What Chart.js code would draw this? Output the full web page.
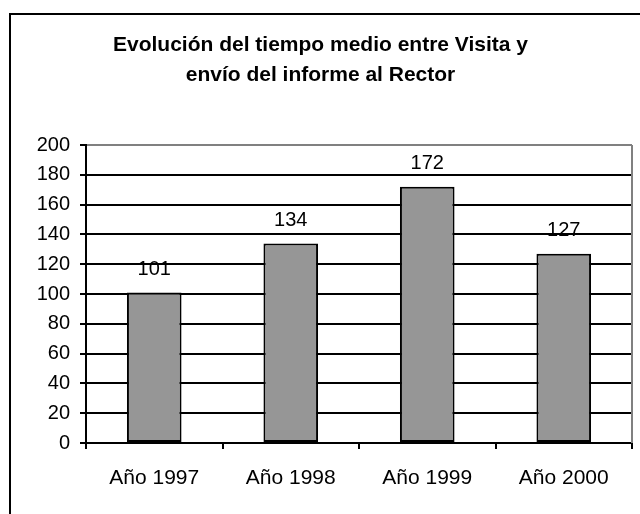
<!DOCTYPE html>
<html>
<head>
<meta charset="utf-8">
<script src="https://cdn.jsdelivr.net/npm/chart.js@4/dist/chart.umd.min.js"></script>
<style>
html,body{margin:0;padding:0;background:#fff;overflow:hidden;}
#wrap{position:relative;width:640px;height:514px;}
#frame{position:absolute;left:9px;top:13px;width:700px;height:600px;border:2px solid #000;pointer-events:none;}
</style>
</head>
<body>
<div id="wrap">
<canvas id="chart" width="640" height="514"></canvas>
<div id="frame"></div>
</div>
<script>
const titleLines=["Evolución del tiempo medio entre Visita y","envío del informe al Rector"];
const categories=["Año 1997","Año 1998","Año 1999","Año 2000"];
const values=[101,134,172,127];
const yTicks=[0,20,40,60,80,100,120,140,160,180,200];

const font="'Liberation Sans', Arial, sans-serif";

// values written above each bar
const valueLabels={
    id:"valueLabels",
    afterDatasetsDraw(chart){
        const ctx=chart.ctx;
        ctx.save();
        ctx.font="20px "+font;
        ctx.fillStyle="#000";
        ctx.textAlign="center";
        ctx.textBaseline="middle";
        chart.getDatasetMeta(0).data.forEach((bar,i)=>{
            ctx.fillText(values[i],bar.x,bar.y-23);
        });
        ctx.restore();
    }
};

// gray right edge of the plot area
const plotFrame={
    id:"plotFrame",
    beforeDatasetsDraw(chart){
        const a=chart.chartArea;
        const ctx=chart.ctx;
        ctx.save();
        ctx.strokeStyle="#808080";
        ctx.lineWidth=2;
        ctx.beginPath();
        ctx.moveTo(a.right,a.top);
        ctx.lineTo(a.right,a.bottom);
        ctx.stroke();
        ctx.restore();
    }
};

const ctx=document.getElementById("chart").getContext("2d");
new Chart(ctx,{
    type:"bar",
    data:{
        labels:categories,
        datasets:[{
            data:values,
            backgroundColor:"#969696",
            borderColor:"#000",
            borderWidth:2,
            borderSkipped:false,
            categoryPercentage:1,
            barPercentage:0.4
        }]
    },
    options:{
        responsive:false,
        animation:false,
        layout:{padding:{left:9,right:8,top:0,bottom:0}},
        plugins:{
            legend:{display:false},
            tooltip:{enabled:false},
            title:{
                display:true,
                text:titleLines,
                color:"#000",
                font:{family:font,size:21,weight:"bold",lineHeight:1.43},
                padding:{top:30,bottom:55}
            }
        },
        scales:{
            x:{
                grid:{drawOnChartArea:false,color:"#000",lineWidth:2,tickLength:6,offset:true},
                border:{color:"#000",width:2},
                ticks:{color:"#000",font:{family:font,size:21},padding:17,maxRotation:0},
                afterFit:s=>{s.height=71;}
            },
            y:{
                min:0,
                max:200,
                afterBuildTicks:s=>{s.ticks=yTicks.map(v=>({value:v}));},
                grid:{
                    color:c=>c.tick && c.tick.value===200?"#808080":"#000",
                    tickColor:"#000",
                    lineWidth:2,
                    tickLength:6
                },
                border:{color:"#000",width:2},
                ticks:{color:"#000",font:{family:font,size:20},padding:10},
                afterFit:s=>{s.width=77;}
            }
        }
    },
    plugins:[valueLabels,plotFrame]
});
</script>
</body>
</html>
